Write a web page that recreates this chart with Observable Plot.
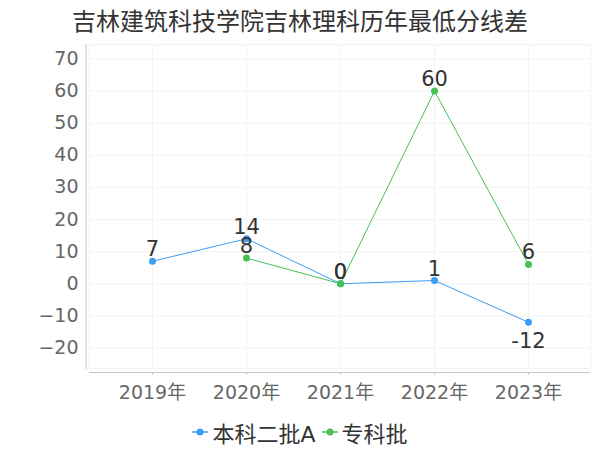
<!DOCTYPE html>
<html><head><meta charset="utf-8">
<script src="https://cdn.jsdelivr.net/npm/d3@7"></script>
<script src="https://cdn.jsdelivr.net/npm/@observablehq/plot@0.6"></script>
<style>
body{margin:0;background:#fff;font-family:"DejaVu Sans","Noto Sans CJK SC",sans-serif;width:600px;height:450px;overflow:hidden;}
#title{height:44px;line-height:44px;text-align:center;font-size:24px;color:#333;white-space:nowrap;}
#chart svg{display:block;}
#legend{height:36px;display:flex;justify-content:center;align-items:center;font-size:22px;color:#333;}
.item{display:flex;align-items:center;}
.item svg{display:block;margin-right:4px;}
.item + .item{margin-left:6px;}
</style></head><body>
<div id="title">吉林建筑科技学院吉林理科历年最低分线差</div>
<div id="chart"></div>
<div id="legend"></div>
<script>
const years = ["2019年","2020年","2021年","2022年","2023年"];
const benke = [7, 14, 0, 1, -12];
const zhuanke = [null, 8, 0, 60, 6];
const seriesNames = ["本科二批A", "专科批"];
const colors = ["#3d9cf5", "#45c156"];
const yTicks = [-20, -10, 0, 10, 20, 30, 40, 50, 60, 70];

const rows = [];
years.forEach((y, i) => {
  rows.push({year: y, value: benke[i], s: seriesNames[0]});
});
years.forEach((y, i) => {
  if (zhuanke[i] != null) rows.push({year: y, value: zhuanke[i], s: seriesNames[1]});
});

const yMin = -26.4, yMax = 74.5;
const font = '"DejaVu Sans","Noto Sans CJK SC",sans-serif';

const chart = Plot.plot({
  width: 600, height: 370,
  marginTop: 0, marginLeft: 89, marginRight: 10, marginBottom: 46,
  x: {type: "point", domain: years, padding: 0.64},
  y: {domain: [yMin, yMax]},
  color: {domain: seriesNames, range: colors},
  style: {fontFamily: font, background: "white", overflow: "visible"},
  marks: [
    Plot.gridY(yTicks, {stroke: "#f3f3f3", strokeOpacity: 1}),
    Plot.gridX(years, {stroke: "#f3f3f3", strokeOpacity: 1}),
    Plot.frame({stroke: "#f3f3f3"}),
    Plot.frame({anchor: "left", dx: -3.5, stroke: "#c4c4c4"}),
    Plot.ruleY([yMin], {dy: 4, stroke: "#c4c4c4"}),
    Plot.ruleX(years, {x: d => d, y1: yMin, y2: yMin, insetTop: 4, insetBottom: -7, stroke: "#c4c4c4"}),
    Plot.axisY(yTicks, {tickSize: 0, tickPadding: 11, fontSize: 19, fill: "#666", label: null}),
    Plot.axisX(years, {tickSize: 0, tickPadding: 17, fontSize: 19, fill: "#666", label: null}),
    Plot.line(rows, {x: "year", y: "value", z: "s", stroke: "s", strokeWidth: 1}),
    Plot.dot(rows, {x: "year", y: "value", fill: "s", r: 3.5, stroke: null}),
    Plot.text(rows.filter(d => d.value >= 0), {x: "year", y: "value", text: d => String(d.value), dy: -5, lineAnchor: "bottom", fontSize: 21, fill: "#333"}),
    Plot.text(rows.filter(d => d.value < 0), {x: "year", y: "value", text: d => String(d.value), dy: 11, lineAnchor: "top", fontSize: 21, fill: "#333"})
  ]
});
document.getElementById("chart").appendChild(chart);

const legend = document.getElementById("legend");
seriesNames.forEach((name, i) => {
  const item = document.createElement("div");
  item.className = "item";
  item.innerHTML = `<svg width="16" height="10"><line x1="0" y1="5" x2="16" y2="5" stroke="${colors[i]}" stroke-width="1.5"/><circle cx="8" cy="5" r="3.5" fill="${colors[i]}"/></svg><span>${name}</span>`;
  legend.appendChild(item);
});
</script>
</body></html>
